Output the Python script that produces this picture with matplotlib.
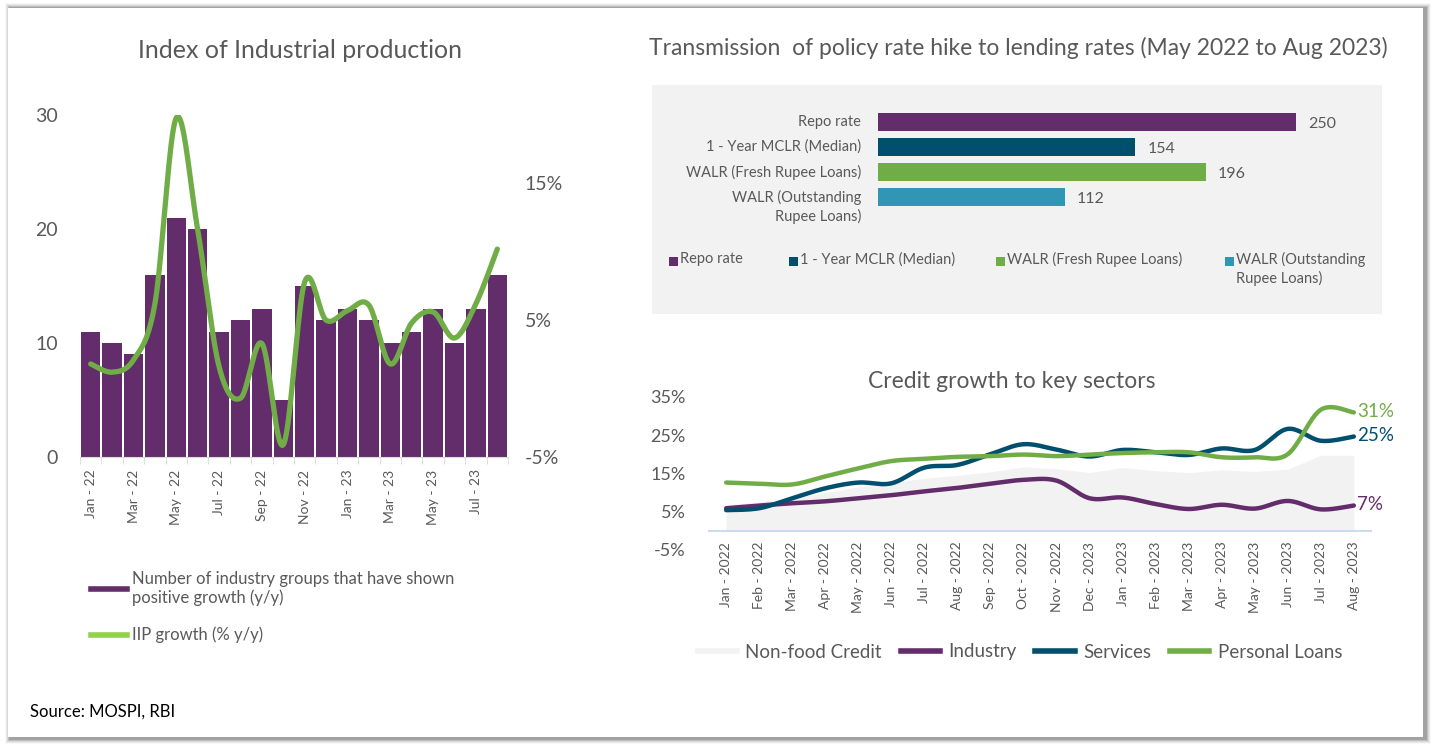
import numpy as np
import matplotlib.pyplot as plt
from matplotlib.lines import Line2D
from matplotlib.patches import Rectangle

plt.rcParams['font.family'] = ['Lato', 'DejaVu Sans']
GREY = '#595959'
PURPLE = '#632C6A'
GREEN = '#70AD47'
TEAL = '#004F6E'
LBLUE = '#3196B4'

# ---- data ----
iip_months = ['Jan - 22', 'Feb - 22', 'Mar - 22', 'Apr - 22', 'May - 22', 'Jun - 22', 'Jul - 22',
              'Aug - 22', 'Sep - 22', 'Oct - 22', 'Nov - 22', 'Dec - 22', 'Jan - 23', 'Feb - 23',
              'Mar - 23', 'Apr - 23', 'May - 23', 'Jun - 23', 'Jul - 23', 'Aug - 23']
industry_groups = [11, 10, 9, 16, 21, 20, 11, 12, 13, 5, 15, 12, 13, 12, 10, 11, 13, 10, 13, 16]
iip_growth = [1.8, 1.2, 2.1, 6.2, 19.8, 11.6, 1.6, -0.7, 3.3, -4.1, 7.8, 5.0, 5.7, 6.1,
              1.8, 4.8, 5.6, 3.7, 6.2, 10.2]

rate_labels = ['Repo rate', '1 - Year MCLR (Median)', 'WALR (Fresh Rupee Loans)',
               'WALR (Outstanding\nRupee Loans)']
rate_legend = ['Repo rate', '1 - Year MCLR (Median)', 'WALR (Fresh Rupee Loans)',
               'WALR (Outstanding\nRupee Loans)']
rate_hike_bps = [250, 154, 196, 112]

credit_months = ['Jan - 2022', 'Feb - 2022', 'Mar - 2022', 'Apr - 2022', 'May - 2022', 'Jun - 2022',
                 'Jul - 2022', 'Aug - 2022', 'Sep - 2022', 'Oct - 2022', 'Nov - 2022', 'Dec - 2023',
                 'Jan - 2023', 'Feb - 2023', 'Mar - 2023', 'Apr - 2023', 'May - 2023', 'Jun - 2023',
                 'Jul - 2023', 'Aug - 2023']
non_food = [6.7, 7.6, 8.5, 10.0, 11.5, 12.6, 13.7, 14.5, 15.4, 16.7, 16.2, 15.2, 16.5, 15.7,
            15.2, 15.9, 15.5, 16.1, 19.7, 19.7]
industry = [5.9, 6.6, 7.2, 7.7, 8.5, 9.3, 10.3, 11.2, 12.3, 13.3, 13.1, 8.5, 8.7, 7.0,
            5.7, 6.8, 5.8, 7.8, 5.6, 6.6]
services = [5.4, 5.9, 8.5, 11.1, 12.6, 12.4, 16.5, 17.2, 20.0, 22.6, 21.2, 19.4, 21.1, 20.5,
            19.8, 21.5, 21.1, 26.6, 23.5, 24.6]
personal = [12.6, 12.3, 12.1, 14.2, 16.3, 18.2, 18.8, 19.3, 19.5, 19.9, 19.5, 19.9, 20.3, 20.5,
            20.5, 19.2, 19.2, 20.0, 31.6, 30.9]


def smooth(y, n=20):
    # Catmull-Rom style smoothing like Excel's "smoothed line"
    y = np.asarray(y, float)
    x = np.arange(len(y), dtype=float)
    px = np.concatenate([[x[0]], x, [x[-1]]])
    py = np.concatenate([[y[0]], y, [y[-1]]])
    xs, ys = [], []
    t = np.linspace(0, 1, n, endpoint=False)
    for i in range(1, len(px) - 2):
        for arr, out in ((px, xs), (py, ys)):
            p0, p1, p2, p3 = arr[i - 1], arr[i], arr[i + 1], arr[i + 2]
            c1 = p1 + (p2 - p0) / 6
            c2 = p2 - (p3 - p1) / 6
            out.extend((1 - t) ** 3 * p1 + 3 * (1 - t) ** 2 * t * c1 + 3 * (1 - t) * t ** 2 * c2 + t ** 3 * p2)
    xs.append(x[-1])
    ys.append(y[-1])
    return np.array(xs), np.array(ys)


W, H = 1434, 745
fig = plt.figure(figsize=(W / 100, H / 100), dpi=100)


def box(l, t, r, b):
    return [l / W, 1 - b / H, (r - l) / W, (b - t) / H]


# shadowed frame
for k, a in enumerate([0.03, 0.05, 0.08, 0.11, 0.15]):
    d = 5 - k
    fig.patches.append(Rectangle(((8 - d + 2) / W, 1 - (739 + d) / H), (1416 + 2 * d) / W, (731 + 2 * d) / H,
                                 transform=fig.transFigure, color='black', alpha=a, lw=0, zorder=-10))
fig.patches.append(Rectangle((8 / W, 1 - 737 / H), 1415 / W, 729 / H, transform=fig.transFigure,
                             color='white', lw=0, zorder=-5))

# ---- left: IIP ----
ax1 = fig.add_axes(box(80, 115, 508, 457))
ax1.patch.set_visible(False)
x = np.arange(len(industry_groups))
ax1.bar(x, industry_groups, width=0.9, color=PURPLE, zorder=2)
ax1.set_xlim(-0.5, len(x) - 0.5)
ax1.set_ylim(0, 30)
ax1.set_yticks([0, 10, 20, 30])
ax1.set_xticks(x[::2])
ax1.set_xticklabels(iip_months[::2], rotation=90, fontsize=10, color=GREY)
ax1.set_xticks(np.arange(-0.5, len(x)), minor=True)
ax1.tick_params(axis='x', which='major', length=0, pad=9)
ax1.tick_params(axis='x', which='minor', length=5, color='#D9D9D9')
ax1.tick_params(axis='y', length=0, labelsize=14, labelcolor=GREY, pad=16)
for s in ['top', 'right', 'left']:
    ax1.spines[s].set_visible(False)
ax1.spines['bottom'].set_color('#D9D9D9')
ax1b = ax1.twinx()
sx, sy = smooth(iip_growth)
ax1b.plot(sx, sy, color=GREEN, lw=3.8, solid_capstyle='round', zorder=3)
ax1b.set_ylim(-5, 20)
ax1b.set_yticks([-5, 5, 15])
ax1b.set_yticklabels(['-5%', '5%', '15%'])
ax1b.tick_params(axis='y', length=0, labelsize=14, labelcolor=GREY, pad=12)
for s in ax1b.spines.values():
    s.set_visible(False)
fig.text(300 / W, 1 - 50 / H, 'Index of Industrial production', ha='center', va='center',
         fontsize=18, color=GREY)
h1 = [Line2D([], [], color=PURPLE, lw=4), Line2D([], [], color='#92D050', lw=4)]
fig.legend(h1, ['Number of industry groups that have shown\npositive growth (y/y)', 'IIP growth (% y/y)'],
           loc='upper left', bbox_to_anchor=(84 / W, 1 - 564 / H), frameon=False, fontsize=12,
           labelcolor=GREY, handlelength=2.2, handletextpad=0.3, labelspacing=1.25,
           borderaxespad=0)
fig.text(30 / W, 1 - 712 / H, 'Source: MOSPI, RBI', ha='left', va='center', fontsize=12, color='black')

# ---- top right: policy transmission ----
fig.text(1018 / W, 1 - 48 / H, 'Transmission  of policy rate hike to lending rates (May 2022 to Aug 2023)',
         ha='center', va='center', fontsize=16.5, color=GREY)
fig.patches.append(Rectangle((652 / W, 1 - 314 / H), 730 / W, 229 / H, transform=fig.transFigure,
                             color='#F2F2F2', lw=0, zorder=-4))
ax2 = fig.add_axes(box(878, 109.5, 1340, 209.5))
ax2.patch.set_visible(False)
cols = [PURPLE, TEAL, GREEN, LBLUE]
ax2.barh(np.arange(4), rate_hike_bps, height=0.72, color=cols)
ax2.set_ylim(3.5, -0.5)
ax2.set_xlim(0, (1340 - 878) / 1.672)
ax2.set_xticks([])
ax2.set_yticks([])
for s in ax2.spines.values():
    s.set_visible(False)
for i, lab in enumerate(rate_labels):
    multi = '\n' in lab
    ax2.annotate(lab, xy=(0, i - 0.3 if multi else i), xycoords=('axes fraction', 'data'),
                 xytext=(-12, 0), textcoords='offset points', ha='right',
                 va='top' if multi else 'center', fontsize=10.5, color=GREY, linespacing=1.35)
for i, v in enumerate(rate_hike_bps):
    ax2.text(v + 7, i + 0.08, str(v), va='center', ha='left', fontsize=11.5, color=GREY)
leg_x = [669, 789, 996, 1225]
for lx, lab, c in zip(leg_x, rate_legend, cols):
    fig.patches.append(Rectangle((lx / W, 1 - 266 / H), 9 / W, 9 / H, transform=fig.transFigure,
                                 color=c, lw=0, zorder=1))
    fig.text((lx + 11) / W, 1 - 252 / H, lab, ha='left', va='top', fontsize=10.5, color=GREY,
             linespacing=1.3)

# ---- bottom right: credit growth ----
ax3 = fig.add_axes(box(708, 396.7, 1372, 550))
ax3.patch.set_visible(False)
xc = np.arange(len(credit_months))
ax3.fill_between(xc, 0, non_food, color='#F2F2F2', lw=0, zorder=1)
for series, c in ((industry, PURPLE), (services, TEAL), (personal, GREEN)):
    sx, sy = smooth(series)
    ax3.plot(sx, sy, color=c, lw=3.2, zorder=3, solid_capstyle='round')
ax3.axhline(0, color='#BDD7EE', lw=1.2, zorder=2)
ax3.set_xlim(-0.55, len(xc) - 0.45)
ax3.set_ylim(-5, 35)
ax3.set_yticks([-5, 5, 15, 25, 35])
ax3.set_yticklabels(['-5%', '5%', '15%', '25%', '35%'])
ax3.tick_params(axis='y', length=0, labelsize=13, labelcolor=GREY, pad=16)
ax3.set_xticks(xc)
ax3.set_xticklabels(credit_months, rotation=90, fontsize=10, color=GREY)
ax3.tick_params(axis='x', length=0, pad=-6)
for s in ax3.spines.values():
    s.set_visible(False)
for series, c, t in ((personal, GREEN, '31%'), (services, TEAL, '25%'), (industry, PURPLE, '7%')):
    ax3.text(len(xc) - 1 + 0.1, series[-1] + 0.3, t, color=c, fontsize=13.5, va='center', ha='left')
fig.text(1012 / W, 1 - 381 / H, 'Credit growth to key sectors', ha='center', va='center',
         fontsize=16.5, color=GREY)
h3 = [Line2D([], [], color='#F2F2F2', lw=4), Line2D([], [], color=PURPLE, lw=4),
      Line2D([], [], color=TEAL, lw=4), Line2D([], [], color=GREEN, lw=4)]
fig.legend(h3, ['Non-food Credit', 'Industry', 'Services', 'Personal Loans'], loc='center left',
           bbox_to_anchor=(690 / W, 1 - 652 / H), ncol=4, frameon=False, fontsize=13.5,
           labelcolor=GREY, handlelength=2.1, handletextpad=0.45, columnspacing=1.0, borderaxespad=0)

fig.savefig('out.png', dpi=100)
